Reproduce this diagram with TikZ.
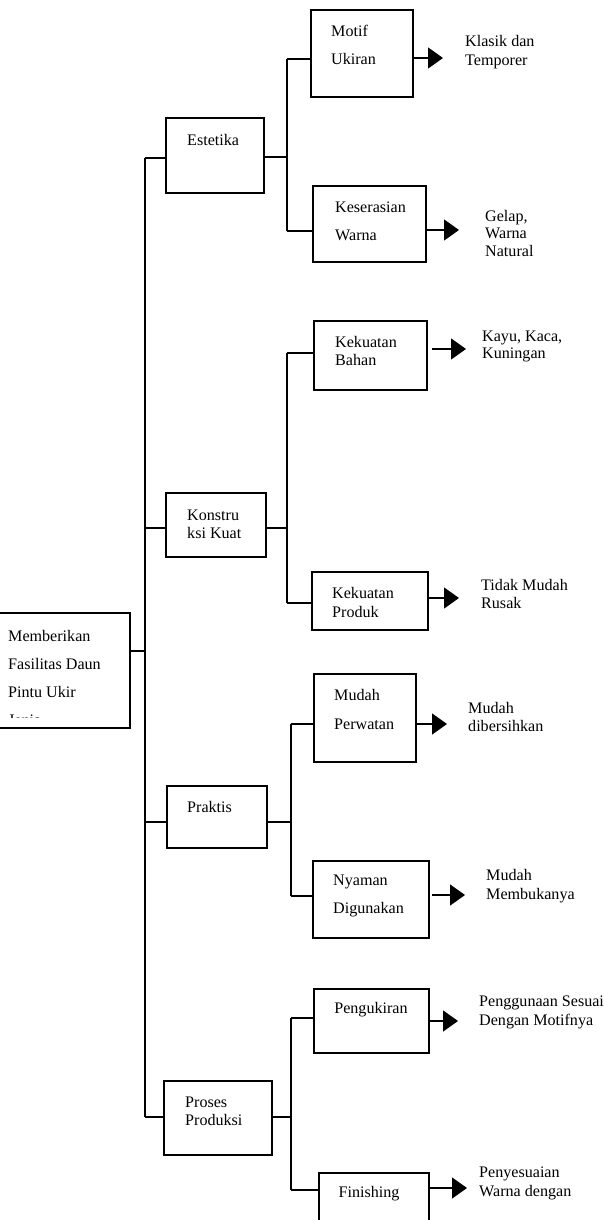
\documentclass[tikz,border=0pt]{standalone}
\usepackage{fontspec}
\setmainfont{Liberation Serif}
\usetikzlibrary{arrows.meta}
\begin{document}
\begin{tikzpicture}[x=1pt,y=-1pt,
  box/.style={draw=black, line width=1.4pt, inner sep=0pt, fill=white},
  ln/.style={draw=black, line width=1.3pt},
  arr/.style={draw=black, line width=1.4pt, -{Triangle[length=15pt,width=21pt]}},
  tx/.style={font=\fontsize{16.1pt}{#1}\selectfont, align=left, inner sep=0pt, anchor=west, text=black},
  tx/.default=18pt]
\useasboundingbox (0,0) rectangle (604,1220);
\clip (0,0) rectangle (604,1220);

% ---------- boxes ----------
\node[box, minimum width=135pt, minimum height=115pt] (root) at (62.5,670.5) {};
\node[box, minimum width=98pt,  minimum height=75pt]  (est)  at (215,155.5) {};
\node[box, minimum width=102pt, minimum height=87pt]  (mot)  at (362,53.5) {};
\node[box, minimum width=113pt, minimum height=76pt]  (kes)  at (369.5,224) {};
\node[box, minimum width=100pt, minimum height=64pt]  (kon)  at (216,525) {};
\node[box, minimum width=113pt, minimum height=69pt]  (kba)  at (370.5,355.5) {};
\node[box, minimum width=116pt, minimum height=58pt]  (kpr)  at (370,601) {};
\node[box, minimum width=100pt, minimum height=62pt]  (pra)  at (217,817) {};
\node[box, minimum width=102pt, minimum height=88pt]  (mpe)  at (365,718) {};
\node[box, minimum width=116pt, minimum height=77pt]  (nya)  at (371,899.5) {};
\node[box, minimum width=108pt, minimum height=74pt]  (pro)  at (218,1118) {};
\node[box, minimum width=115pt, minimum height=64pt]  (pen)  at (371.5,1021) {};
\node[box, minimum width=110pt, minimum height=72pt]  (fin)  at (374,1209) {};

% ---------- texts in boxes ----------
\begin{scope}
  \clip (0,613) rectangle (130,717);
  \node[tx=28pt] (rootT) at (8,678) {Memberikan\\Fasilitas Daun\\Pintu Ukir\\Jenis};
\end{scope}
\node[tx] (estT) at (187,140) {Estetika};
\node[tx=28pt] (motT) at (331,45) {Motif\\Ukiran};
\node[tx=28pt] (kesT) at (335,221) {Keserasian\\Warna};
\node[tx=17.5pt] (konT) at (187,524.5) {Konstru\\ksi Kuat};
\node[tx=18pt] (kbaT) at (335,351) {Kekuatan\\Bahan};
\node[tx=19pt] (kprT) at (332,602.5) {Kekuatan\\Produk};
\node[tx] (praT) at (187,807) {Praktis};
\node[tx=29pt] (mpeT) at (334,709.5) {Mudah\\Perwatan};
\node[tx=28pt] (nyaT) at (333,896) {Nyaman\\Digunakan};
\node[tx=18pt] (proT) at (185,1111) {Proses\\Produksi};
\node[tx, anchor=center] (penT) at (371,1010) {Pengukiran};
\node[tx, anchor=center] (finT) at (369,1194) {Finishing};

% ---------- result texts ----------
\node[tx=19pt] (r1) at (465,52.5) {Klasik dan\\Temporer};
\node[tx=17.5pt] (r2) at (485,233) {Gelap,\\Warna\\Natural};
\node[tx=17pt] (r3) at (482,346.5) {Kayu, Kaca,\\Kuningan};
\node[tx=18pt] (r4) at (481,594) {Tidak Mudah\\Rusak};
\node[tx=18pt] (r5) at (468,717) {Mudah\\dibersihkan};
\node[tx=19pt] (r6) at (486,886.5) {Mudah\\Membukanya};
\node[tx=19pt] (r7) at (479,1012.5) {Penggunaan Sesuai\\Dengan Motifnya};
\node[tx=19pt] (r8) at (479,1183.5) {Penyesuaian\\Warna dengan};

% ---------- connector coordinates ----------
\coordinate (tTop) at (145,158);
\coordinate (tBot) at (145,1117);
\coordinate (tRoot) at (145,651);
\coordinate (tKon) at (145,528);
\coordinate (tPra) at (145,822);

\coordinate (b1) at (287,157);
\coordinate (b1a) at (287,59);
\coordinate (b1b) at (287,231);
\coordinate (b2) at (287,528);
\coordinate (b2a) at (287,353);
\coordinate (b2b) at (287,603);
\coordinate (b3) at (291,822);
\coordinate (b3a) at (291,724);
\coordinate (b3b) at (291,896);
\coordinate (b4) at (291,1117);
\coordinate (b4a) at (291,1018);
\coordinate (b4b) at (291,1190);

\coordinate (a1) at (443,58);
\coordinate (a2) at (459,230);
\coordinate (a3) at (466,349);
\coordinate (a4) at (459,598);
\coordinate (a5) at (447,724);
\coordinate (a6) at (465,895);
\coordinate (a7) at (458,1021);
\coordinate (a8) at (467,1188);

% ---------- trunk ----------
\draw[ln] (tTop) -- (tBot);
\draw[ln] (tRoot -| root.east) -- (tRoot);
\draw[ln] (tTop) -- (tTop -| est.west);
\draw[ln] (tKon) -- (tKon -| kon.west);
\draw[ln] (tPra) -- (tPra -| pra.west);
\draw[ln] (tBot) -- (tBot -| pro.west);

% ---------- branches ----------
\draw[ln] (b1 -| est.east) -- (b1);
\draw[ln] (b1a) -- (b1b);
\draw[ln] (b1a) -- (b1a -| mot.west);
\draw[ln] (b1b) -- (b1b -| kes.west);

\draw[ln] (b2 -| kon.east) -- (b2);
\draw[ln] (b2a) -- (b2b);
\draw[ln] (b2a) -- (b2a -| kba.west);
\draw[ln] (b2b) -- (b2b -| kpr.west);

\draw[ln] (b3 -| pra.east) -- (b3);
\draw[ln] (b3a) -- (b3b);
\draw[ln] (b3a) -- (b3a -| mpe.west);
\draw[ln] (b3b) -- (b3b -| nya.west);

\draw[ln] (b4 -| pro.east) -- (b4);
\draw[ln] (b4a) -- (b4b);
\draw[ln] (b4a) -- (b4a -| pen.west);
\draw[ln] (b4b) -- (b4b -| fin.west);

% ---------- arrows ----------
\draw[arr] (a1 -| mot.east) -- (a1);
\draw[arr] (a2 -| kes.east) -- (a2);
\draw[arr, shorten <=4pt] (a3 -| kba.east) -- (a3);
\draw[arr] (a4 -| kpr.east) -- (a4);
\draw[arr] (a5 -| mpe.east) -- (a5);
\draw[arr, shorten <=2pt] (a6 -| nya.east) -- (a6);
\draw[arr] (a7 -| pen.east) -- (a7);
\draw[arr] (a8 -| fin.east) -- (a8);
\end{tikzpicture}
\end{document}
